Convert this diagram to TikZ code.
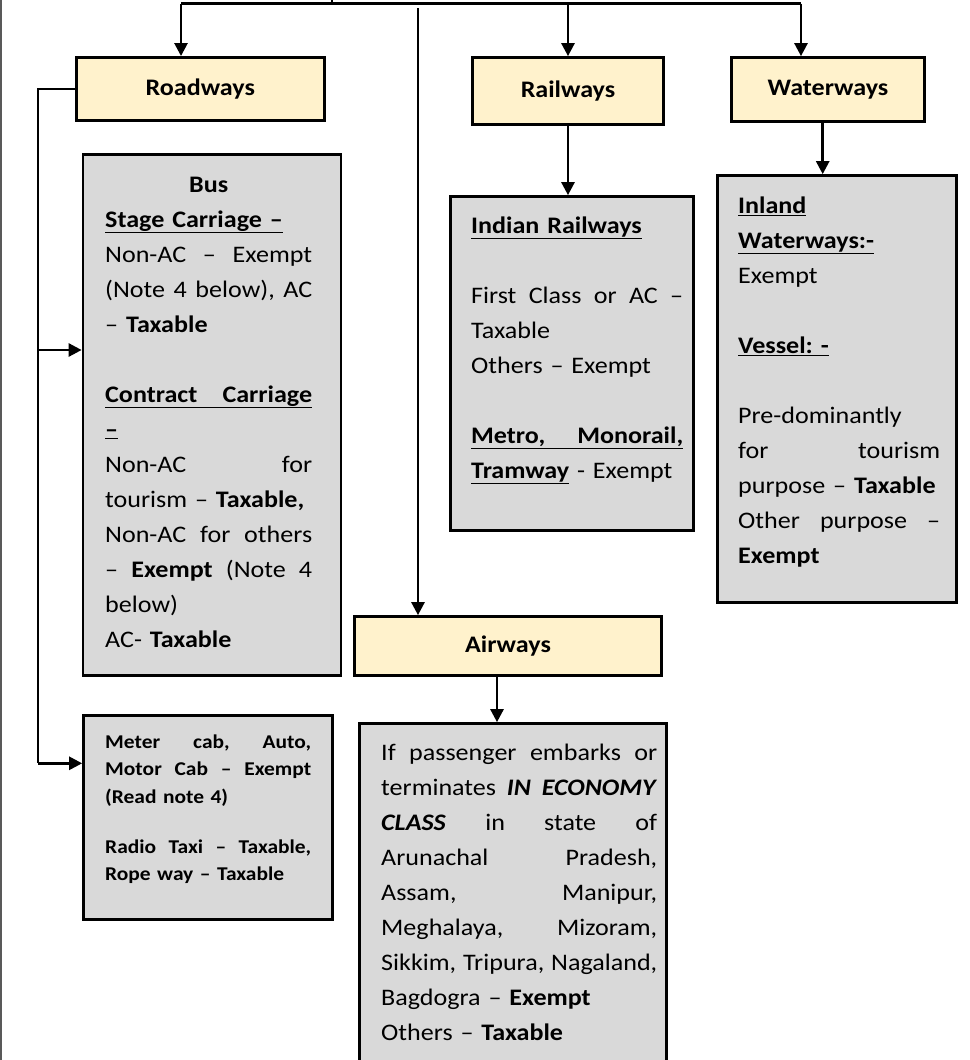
\documentclass[tikz,border=0pt]{standalone}
\usepackage{fontspec}
\setmainfont{Carlito}[FakeStretch=1.1]
\usetikzlibrary{arrows.meta}
\definecolor{titlefill}{HTML}{FFF2CC}
\definecolor{infofill}{HTML}{D9D9D9}
\frenchspacing
% a line of text stretched to the full column width (spaces made elastic)
\newcommand{\jline}[1]{{\spaceskip=0.2261em plus 1fil\relax
  \xspaceskip=\spaceskip\makebox[\linewidth][s]{#1}}}
\tikzset{
  tbox/.style={draw, line width=2.7pt, fill=titlefill, inner sep=0pt,
    font=\fontsize{23.7}{28}\selectfont\bfseries},
  gbox/.style={draw, line width=2.7pt, fill=infofill, inner sep=0pt},
  body/.style={anchor=north west, inner sep=0pt, align=left,
    font=\fontsize{23.7}{35}\selectfont\frenchspacing},
  smallbody/.style={anchor=north west, inner sep=0pt, align=left,
    font=\fontsize{19.5}{27.5}\selectfont\bfseries\frenchspacing},
  link/.style={line width=2.6pt},
  arr/.style={link, -{Triangle[length=13pt,width=13pt]}}
}
\begin{document}
\begin{tikzpicture}[x=1pt, y=-1pt]
\useasboundingbox (0,0) rectangle (969,1060);
% page frame on the left
\draw[line width=1.5pt, black!65] (0.75,0) -- (0.75,1060);

% category boxes
\node[tbox, minimum width=248pt, minimum height=63pt] (road) at (200.3,88.9) {Roadways};
\node[tbox, minimum width=191pt, minimum height=67pt] (rail) at (568,91) {Railways};
\node[tbox, minimum width=193pt, minimum height=64pt] (water) at (828,89.5) {Waterways};
\node[tbox, minimum width=307pt, minimum height=59pt] (air) at (508,646) {Airways};

% detail boxes
\node[gbox, minimum width=258pt, minimum height=521.5pt] (bus) at (212,415) {};
\node[gbox, minimum width=249pt, minimum height=204pt] (meter) at (208,817.5) {};
\node[gbox, minimum width=243pt, minimum height=334pt] (ir) at (572,363.5) {};
\node[gbox, minimum width=239pt, minimum height=427pt] (wc) at (837,389) {};
\node[gbox, minimum width=307pt, minimum height=355pt] (ac) at (513,901) {};

% texts of the detail boxes
\node[body, text width=207pt] (bustext) at (105,167.5) {\strut
  \makebox[\linewidth]{\textbf{Bus}}\\
  \underline{\textbf{Stage Carriage –}}\\
  \jline{Non-AC – Exempt}\\
  \jline{(Note 4 below), AC}\\
  – \textbf{Taxable}\\[35pt]
  \underline{\jline{\textbf{Contract Carriage}}}\\
  \underline{\textbf{–}}\\
  \jline{Non-AC for}\\
  tourism – \textbf{Taxable,}\\
  \jline{Non-AC for others}\\
  \jline{– \textbf{Exempt} (Note 4}\\
  below)\\
  AC- \textbf{Taxable}};

\node[smallbody, text width=206pt] (metertext) at (105,728.75) {\strut
  \jline{Meter cab, Auto,}\\
  \jline{Motor Cab – Exempt}\\
  (Read note 4)\\[22.5pt]
  \jline{Radio Taxi – Taxable,}\\
  Rope way – Taxable};

\node[body, text width=212pt] (irtext) at (471,208.5) {\strut
  \underline{\textbf{Indian Railways}}\\[35pt]
  \jline{First Class or AC –}\\
  Taxable\\
  Others – Exempt\\[35pt]
  \underline{\jline{\textbf{Metro, Monorail,}}}\\
  \underline{\textbf{Tramway}} - Exempt};

\node[body, text width=202pt] (wctext) at (738,188.5) {\strut
  \underline{\textbf{Inland}}\\
  \underline{\textbf{Waterways:-}}\\
  Exempt\\[35pt]
  \underline{\textbf{Vessel: -}}\\[35pt]
  Pre-dominantly\\
  \jline{for tourism}\\
  purpose – \textbf{Taxable}\\
  \jline{Other purpose –}\\
  \textbf{Exempt}};

\node[body, text width=276pt] (actext) at (381,735.5) {\strut
  \jline{If passenger embarks or}\\
  \jline{terminates \textbf{\textit{IN ECONOMY}}}\\
  \jline{\textbf{\textit{CLASS}} in state of}\\
  \jline{Arunachal Pradesh,}\\
  \jline{Assam, Manipur,}\\
  \jline{Meghalaya, Mizoram,}\\
  \jline{Sikkim, Tripura, Nagaland,}\\
  Bagdogra – \textbf{Exempt}\\
  Others – \textbf{Taxable}};

% top distribution bar
\coordinate (barL) at (181,3.5);
\coordinate (barM) at (568,3.5);
\coordinate (barR) at (801,3.5);
\coordinate (stub) at (332,3.5);
\coordinate (airtop) at (418,8);
\draw[link] (barL) -- (barR);
\draw[link] (stub) -- (332,0);
\draw[arr] (barL) -- (barL |- road.north);
\draw[arr] (barM) -- (barM |- rail.north);
\draw[arr] (barR) -- (barR |- water.north);
\draw[arr] (airtop) -- (airtop |- air.north);

% category to detail
\draw[arr] (rail.south) -- (rail.south |- ir.north);
\coordinate (wdrop) at (822.7,122.7);
\draw[arr] (wdrop) -- (wdrop |- wc.north);
\coordinate (adrop) at (497,677);
\draw[arr] (adrop) -- (adrop |- ac.north);

% roadways branch on the left
\coordinate (lt) at (38,88.9);
\coordinate (lmid) at (38,350);
\coordinate (lb) at (38,763.3);
\draw[link, line join=miter] (road.west) -- (lt) -- (lb);
\draw[arr] (lmid) -- (bus.west |- lmid);
\draw[arr] (lb) -- (meter.west |- lb);
\end{tikzpicture}
\end{document}
